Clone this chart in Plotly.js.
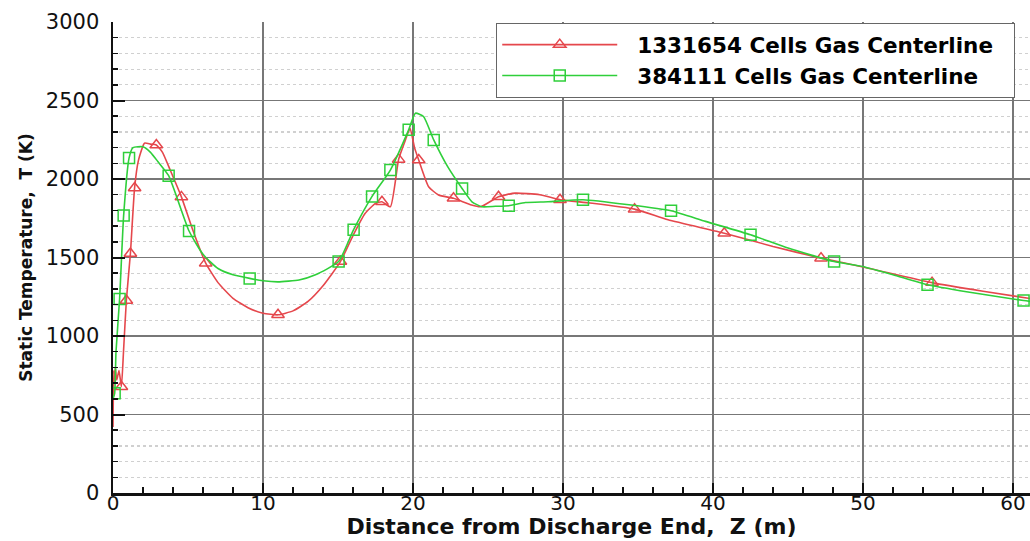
<!DOCTYPE html>
<html>
<head>
<meta charset="utf-8">
<script src="https://cdn.plot.ly/plotly-3.0.1.min.js"></script>
<style>html,body{margin:0;padding:0;background:#fff;}#chart{width:1030px;height:541px;}</style>
</head>
<body>
<div id="chart"></div>
<script>
// Series 1: 1331654 Cells Gas Centerline (red, triangles)
const redZ = [0, 0.05, 0.1, 0.15, 0.25, 0.4, 0.56, 0.7, 0.89, 1.16, 1.44, 1.7, 2.1, 2.5, 2.89, 3.3, 3.8, 4.56, 5.3, 6.18, 7, 8, 9, 10, 11, 12, 13, 14, 15.16, 16, 16.8, 17.5, 17.93, 18.49, 19.04, 19.5, 19.8, 20.1, 20.38, 21.04, 21.7, 22.7, 23.9, 24.5, 25.7, 26.8, 28.45, 29.8, 31.8, 34.77, 37, 40.75, 44, 47.2, 50, 54.6, 58, 61.2];
const redT = [420, 780, 700, 800, 720, 780, 677, 900, 1226, 1525, 1943, 2120, 2228, 2222, 2217, 2170, 2060, 1886, 1680, 1464, 1340, 1240, 1180, 1145, 1135, 1160, 1220, 1320, 1474, 1640, 1780, 1845, 1855, 1823, 2125, 2250, 2323, 2200, 2121, 1951, 1898, 1877, 1834, 1823, 1887, 1910, 1900, 1868, 1847, 1808, 1740, 1655, 1570, 1496, 1440, 1340, 1285, 1238];
const redMarkZ = [0.56, 0.89, 1.16, 1.44, 2.89, 4.56, 6.18, 11.0, 15.16, 17.93, 19.04, 20.38, 22.7, 25.7, 29.8, 34.77, 40.75, 47.2, 54.6];
const redMarkT = [677, 1226, 1525, 1943, 2217, 1886, 1464, 1135, 1474, 1855, 2125, 2121, 1877, 1887, 1868, 1808, 1655, 1496, 1340];

// Series 2: 384111 Cells Gas Centerline (green, squares)
const greenZ = [0, 0.11, 0.2, 0.44, 0.71, 1.07, 1.33, 2.0, 2.5, 3.0, 3.71, 5.07, 6, 7, 8, 9.11, 10, 11, 12.4, 13.5, 15.04, 16.04, 17.27, 18.49, 19.71, 20.16, 20.7, 21.38, 22.3, 23.27, 23.93, 24.6, 25.5, 26.38, 27.5, 29, 31.33, 34.4, 37.2, 39.5, 42.5, 45, 48.07, 49.96, 52, 54.3, 57, 60.7, 61.2];
const greenT = [600, 635, 900, 1236, 1768, 2133, 2200, 2205, 2170, 2110, 2021, 1669, 1520, 1430, 1390, 1367, 1352, 1345, 1357, 1390, 1474, 1677, 1889, 2057, 2313, 2419, 2398, 2249, 2080, 1940, 1855, 1823, 1826, 1830, 1850, 1855, 1868, 1836, 1798, 1730, 1645, 1560, 1474, 1443, 1390, 1326, 1280, 1226, 1220];
const greenMarkZ = [0.11, 0.44, 0.71, 1.07, 3.71, 5.07, 9.11, 15.04, 16.04, 17.27, 18.49, 19.71, 21.38, 23.27, 26.38, 31.33, 37.2, 42.5, 48.07, 54.3, 60.7];
const greenMarkT = [635, 1236, 1768, 2133, 2021, 1669, 1367, 1474, 1677, 1889, 2057, 2313, 2249, 1940, 1830, 1868, 1798, 1645, 1474, 1326, 1226];

const seriesNames = ['1331654 Cells Gas Centerline', '384111 Cells Gas Centerline'];
const xTitle = 'Distance from Discharge End,  Z (m)';
const yTitle = 'Static Temperature,  T (K)';

const RED = '#e5474c';
const GREEN = '#2fcf3a';
const PAD = '\u00a0\u00a0';
const TAIL = '\u00a0\u00a0';

const traces = [
  {x: redZ, y: redT, mode: 'lines', line: {color: RED, width: 1.6, shape: 'spline', smoothing: 0.5}, showlegend: false, hoverinfo: 'skip'},
  {x: redMarkZ, y: redMarkT, mode: 'markers', marker: {symbol: 'triangle-up-open', size: 11, color: RED, line: {width: 1.5}}, showlegend: false},
  {x: greenZ, y: greenT, mode: 'lines', line: {color: GREEN, width: 1.6, shape: 'spline', smoothing: 0.5}, showlegend: false, hoverinfo: 'skip'},
  {x: greenMarkZ, y: greenMarkT, mode: 'markers', marker: {symbol: 'square-open', size: 11, color: GREEN, line: {width: 1.5}}, showlegend: false},
  {x: [null], y: [null], name: PAD + seriesNames[0] + TAIL, mode: 'lines+markers', line: {color: RED, width: 1.6}, marker: {symbol: 'triangle-up-open', size: 11, color: RED, line: {width: 1.5}}},
  {x: [null], y: [null], name: PAD + seriesNames[1], mode: 'lines+markers', line: {color: GREEN, width: 1.6}, marker: {symbol: 'square-open', size: 11, color: GREEN, line: {width: 1.5}}}
];

const layout = {
  width: 1030, height: 541,
  margin: {l: 113, r: 0, t: 22, b: 48},
  paper_bgcolor: '#ffffff', plot_bgcolor: '#ffffff',
  font: {family: 'DejaVu Sans, sans-serif', color: '#111'},
  showlegend: true,
  legend: {
    x: 0.4177, y: 0.998, xanchor: 'left', yanchor: 'top',
    bgcolor: '#ffffff', bordercolor: '#666', borderwidth: 1.2,
    font: {family: 'DejaVu Sans, sans-serif', size: 21.5, color: '#000', weight: 'bold'},
    itemwidth: 115, tracegroupgap: 0
  },
  xaxis: {
    range: [0, 61.13], dtick: 10, tick0: 0,
    ticks: 'inside', ticklen: 10, tickwidth: 2, tickcolor: '#111',
    showline: true, linecolor: '#111', linewidth: 2.5,
    showgrid: true, gridcolor: '#777', gridwidth: 1.6,
    zeroline: false,
    ticklabelstandoff: -10,
    tickfont: {size: 20, family: 'DejaVu Sans, sans-serif', color: '#111'},
    minor: {dtick: 2, ticks: 'inside', ticklen: 6, tickwidth: 1.5, tickcolor: '#111', showgrid: false},
    title: {text: xTitle, font: {size: 22, family: 'DejaVu Sans, sans-serif', weight: 'bold', color: '#111'}, standoff: 2}
  },
  yaxis: {
    range: [0, 3000], dtick: 500, tick0: 0,
    ticks: 'inside', ticklen: 12, tickwidth: 2, tickcolor: '#111',
    showline: true, linecolor: '#111', linewidth: 2.5,
    showgrid: true, gridcolor: '#777', gridwidth: 1.6,
    zeroline: false,
    ticklabelstandoff: 7,
    tickfont: {size: 21, family: 'DejaVu Sans, sans-serif', color: '#111'},
    minor: {dtick: 100, ticks: 'inside', ticklen: 5, tickwidth: 1.5, tickcolor: '#111', showgrid: true, gridcolor: '#d0d0d0', griddash: 'dot', gridwidth: 1.2},
    title: {text: yTitle, font: {size: 17, family: 'DejaVu Sans, sans-serif', weight: 'bold', color: '#111'}, standoff: 9}
  }
};

Plotly.newPlot('chart', traces, layout, {staticPlot: true, displayModeBar: false});
</script>
</body>
</html>
